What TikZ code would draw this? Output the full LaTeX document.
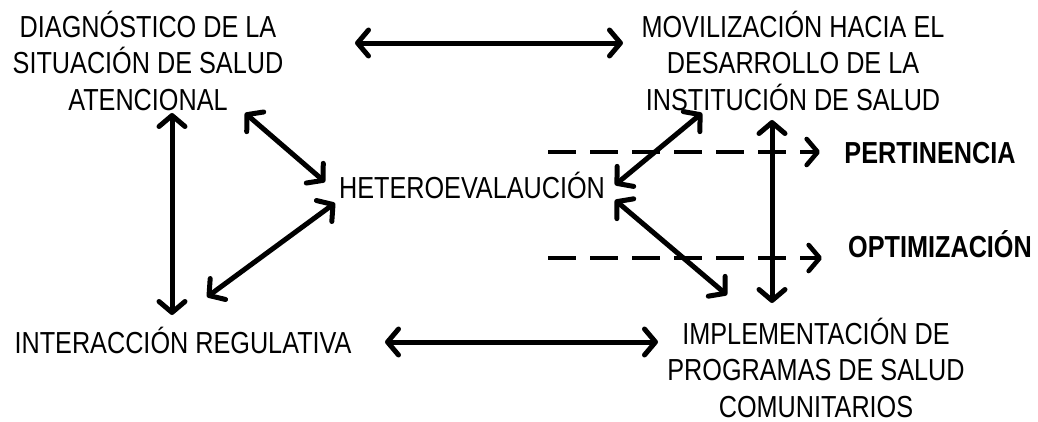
\documentclass[tikz,border=0pt]{standalone}
\usepackage{fontspec}
\setmainfont{Liberation Sans}[FakeStretch=0.83]
\usetikzlibrary{arrows.meta}
\begin{document}
\begin{tikzpicture}[x=1pt,y=-1pt,
  txt/.style={inner sep=0pt,anchor=base,align=center,font=\fontsize{30.4}{36.5}\selectfont},
  boldtxt/.style={txt,font=\fontsize{30.4}{36.5}\selectfont\bfseries},
  barb/.tip={Straight Barb[length=11pt,width=26pt,round]},
  dbl/.style={line width=5pt,barb-barb},
  dsh/.style={line width=4.6pt,dash pattern=on 28pt off 14pt,-barb}]
\useasboundingbox (0,0) rectangle (1038,421);
% text nodes, placed by the baseline of their last line
\node[txt] (diag) at (148,110) {DIAGNÓSTICO DE LA\\SITUACIÓN DE SALUD\\ATENCIONAL};
\node[txt] (mov) at (793,110) {MOVILIZACIÓN HACIA EL\\DESARROLLO DE LA\\INSTITUCIÓN DE SALUD};
\node[txt] (het) at (472,198) {HETEROEVALAUCIÓN};
\node[txt] (inter) at (183,353) {INTERACCIÓN REGULATIVA};
\node[txt] (impl) at (816,417) {IMPLEMENTACIÓN DE\\PROGRAMAS DE SALUD\\COMUNITARIOS};
\node[boldtxt] (pert) at (930,163) {PERTINENCIA};
\node[boldtxt] (opt) at (940,257) {OPTIMIZACIÓN};
% two-way connectors
\draw[dbl] ([shift={(207,-67)}]diag.base) -- ([shift={(-170,-67)}]mov.base);
\draw[dbl] ([shift={(202,-11)}]inter.base) -- ([shift={(-158,-75)}]impl.base);
\draw[dbl] ([shift={(24,3)}]diag.base) -- ([shift={(-11,-38)}]inter.base);
\draw[dbl] ([shift={(97,3)}]diag.base) -- ([shift={(-147,-16)}]het.base);
\draw[dbl] ([shift={(24,-56)}]inter.base) -- ([shift={(-137,5)}]het.base);
\draw[dbl] ([shift={(-91,3)}]mov.base) -- ([shift={(143,-13)}]het.base);
\draw[dbl] ([shift={(143,2)}]het.base) -- ([shift={(-89,-122)}]impl.base);
\draw[dbl] ([shift={(-21,10)}]mov.base) -- ([shift={(-44,-114)}]impl.base);
% dashed outcome arrows
\coordinate (d1) at (548,152);
\coordinate (d2) at (548,258);
\draw[dsh] (d1) -- ([shift={(-110,-11)}]pert.base);
\draw[dsh] (d2) -- ([shift={(-118,1)}]opt.base);
\end{tikzpicture}
\end{document}
